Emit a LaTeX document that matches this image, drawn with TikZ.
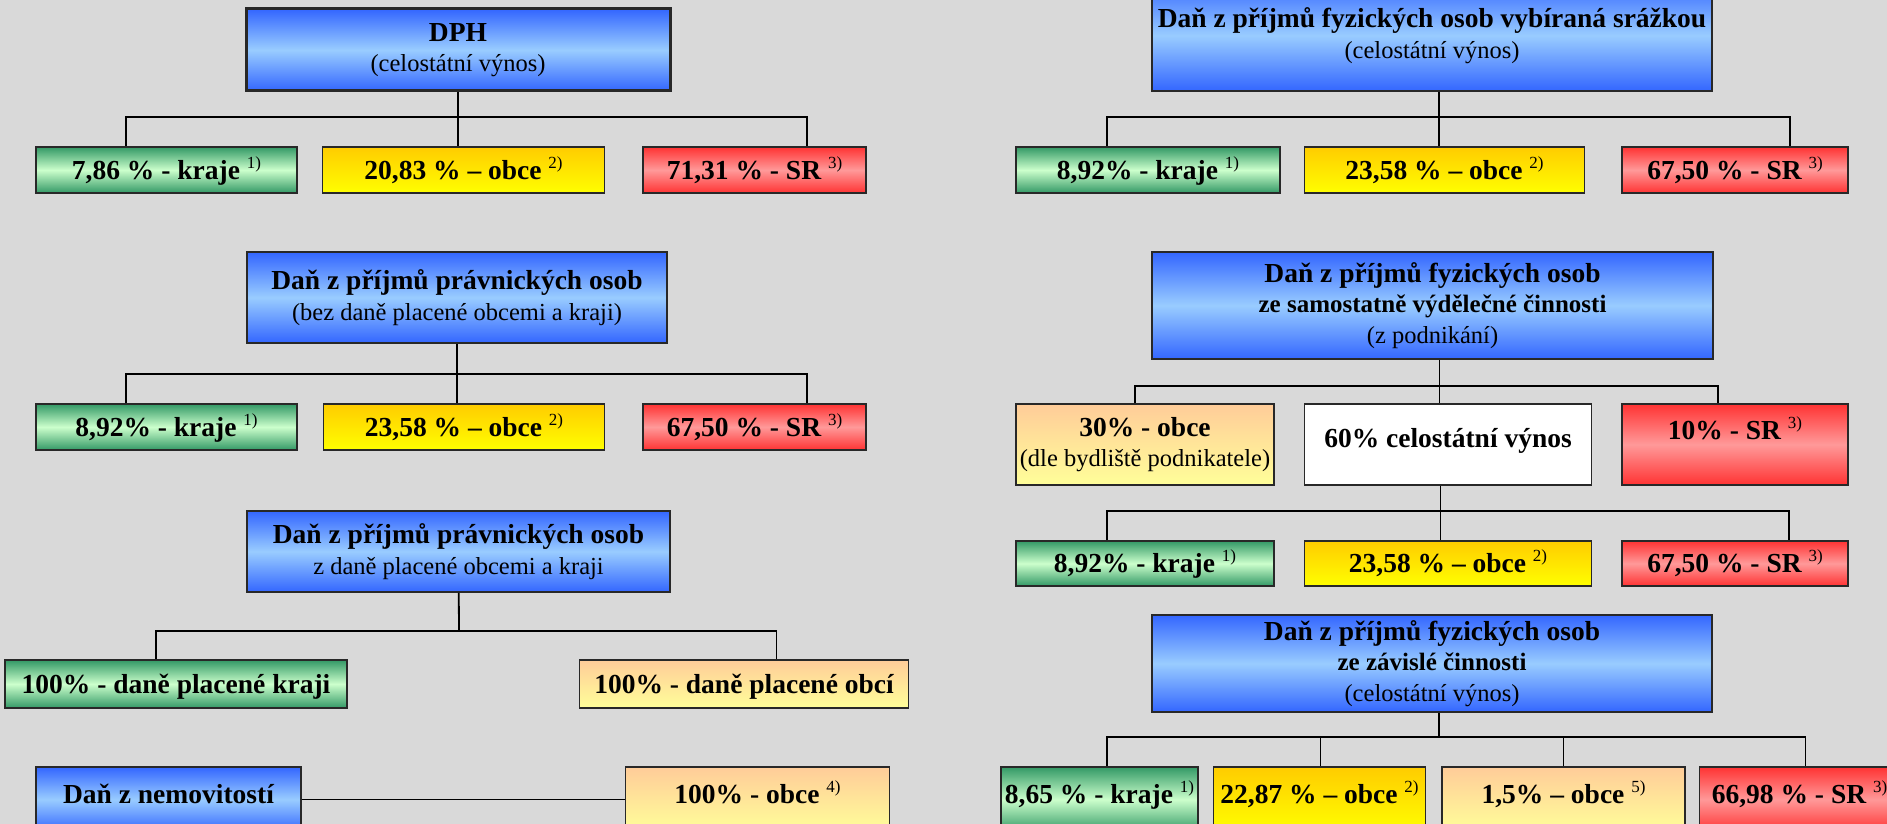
\documentclass[tikz,border=0pt]{standalone}
\usepackage{fontspec}
\setmainfont{Liberation Serif}
\usetikzlibrary{positioning}

\definecolor{bgpage}{RGB}{217,217,217}
\definecolor{boxline}{RGB}{40,40,40}
\definecolor{blueedge}{RGB}{51,102,255}
\definecolor{bluemid}{RGB}{153,204,255}
\definecolor{greenedge}{RGB}{51,153,102}
\definecolor{greenmid}{RGB}{204,255,204}
\definecolor{goldtop}{RGB}{255,204,0}
\definecolor{goldbot}{RGB}{255,255,0}
\definecolor{rededge}{RGB}{255,51,51}
\definecolor{redmid}{RGB}{255,153,153}
\definecolor{peachtop}{RGB}{255,204,153}
\definecolor{peachbot}{RGB}{255,255,153}

\newcommand{\supmark}[1]{\raisebox{11pt}{\fontsize{17}{17}\selectfont\mdseries #1)}}
\newcommand{\subline}[1]{{\fontsize{24.5}{30.5}\selectfont\mdseries #1}}
\newcommand{\boldline}[1]{{\fontsize{25}{30.5}\selectfont #1}}

\begin{document}
\begin{tikzpicture}[x=1pt, y=-1pt,
    box/.style={rectangle, draw=boxline, line width=1.5pt, inner xsep=1pt, inner ysep=0pt, align=center, font=\fontsize{27.5}{30.5}\selectfont\bfseries},
    cell/.style 2 args={box, text height=#1, text depth=#2},
    head/.style={box, top color=blueedge, bottom color=blueedge, middle color=bluemid},
    kraj/.style={top color=greenedge, bottom color=greenedge, middle color=greenmid},
    obec/.style={top color=goldtop, bottom color=goldbot},
    stat/.style={top color=rededge, bottom color=rededge, middle color=redmid},
    peach/.style={top color=peachtop, bottom color=peachbot},
    link/.style={draw=black, line width=1.8pt}]

    \fill[bgpage] (0,0) rectangle (1887,824);
    \useasboundingbox (0,0) rectangle (1887,824);

    % DPH
    \node (dph) [head, line width=3pt, minimum width=424pt, minimum height=82pt] at (458,50) {DPH\\\subline{(celostátní výnos)}};
    \node (k1) [cell={32pt}{14pt}, kraj, minimum width=261pt] at (166.5,170) {7,86 \% - kraje \supmark{1}};
    \node (o1) [cell={32pt}{14pt}, obec, minimum width=282pt, right=24pt of k1] {20,83 \% – obce \supmark{2}};
    \node (s1) [cell={32pt}{14pt}, stat, minimum width=223pt, right=37pt of o1] {71,31 \% - SR \supmark{3}};
    \coordinate (bus1) at (459,117);
    \draw[link] (dph) -- (dph |- o1.north);
    \draw[link] ([xshift=-40.5pt]k1.north) |- (bus1) -| ([xshift=52.5pt]s1.north);

    % Pravnicke osoby (bez dane obci a kraju)
    \node (ppo) [head, minimum width=420pt, minimum height=91pt] at (457,297.5) {Daň z příjmů právnických osob\\\subline{(bez daně placené obcemi a kraji)}};
    \node (k2) [cell={32pt}{14pt}, kraj, minimum width=261pt] at (166.5,427) {8,92\% - kraje \supmark{1}};
    \node (o2) [cell={32pt}{14pt}, obec, minimum width=281pt, right=25pt of k2] {23,58 \% – obce \supmark{2}};
    \node (s2) [cell={32pt}{14pt}, stat, minimum width=223pt, right=37pt of o2] {67,50 \% - SR \supmark{3}};
    \coordinate (bus2) at (459,374);
    \draw[link] (ppo) -- (ppo |- o2.north);
    \draw[link] ([xshift=-40.5pt]k2.north) |- (bus2) -| ([xshift=52.5pt]s2.north);

    % Pravnicke osoby (dan obci a kraju)
    \node (ppob) [head, minimum width=423pt, minimum height=81pt] at (458.5,551.5) {Daň z příjmů právnických osob\\\subline{z daně placené obcemi a kraji}};
    \node (kr) [cell={33pt}{15pt}, kraj, minimum width=342pt] at (176,684) {100\% - daně placené kraji};
    \node (ob) [cell={33pt}{15pt}, peach, minimum width=329pt, right=231pt of kr] {100\% - daně placené obcí};
    \coordinate (bus3) at (459,631);
    \draw[link] (ppob) -- (bus3);
    \draw[link] ([xshift=-20pt]kr.north) |- (bus3) -| ([xshift=32.5pt]ob.north);

    % Nemovitosti
    \node (nem) [head, cell={36pt}{29pt}, minimum width=265pt] at (168.5,799.5) {Daň z nemovitostí};
    \node (obc) [cell={36pt}{29pt}, peach, minimum width=264pt, right=323pt of nem] {100\% - obce \supmark{4}};
    \draw[link] (nem) -- (obc);

    % Fyzicke osoby - srazka
    \node (fos) [head, minimum width=560pt, minimum height=111pt] at (1432,35.5) {Daň z příjmů fyzických osob vybíraná srážkou\\\subline{(celostátní výnos)}};
    \node (k3) [cell={32pt}{14pt}, kraj, minimum width=264pt] at (1148,170) {8,92\% - kraje \supmark{1}};
    \node (o3) [cell={32pt}{14pt}, obec, minimum width=280pt, right=23pt of k3] {23,58 \% – obce \supmark{2}};
    \node (s3) [cell={32pt}{14pt}, stat, minimum width=226pt, right=36pt of o3] {67,50 \% - SR \supmark{3}};
    \coordinate (bus4) at (1439,117);
    \draw[link] ([xshift=7pt]fos.south) -- ([xshift=7pt]fos.south |- o3.north);
    \draw[link] ([xshift=-41pt]k3.north) |- (bus4) -| ([xshift=55pt]s3.north);

    % Fyzicke osoby - podnikani
    \node (fosp) [head, minimum width=561pt, minimum height=107pt] at (1432.5,305.5) {Daň z příjmů fyzických osob\\\boldline{ze samostatně výdělečné činnosti}\\\subline{(z podnikání)}};
    \node (ob5) [box, peach, minimum width=258pt, minimum height=81pt] at (1145,444.5) {30\% - obce\\\subline{(dle bydliště podnikatele)}};
    \node (cel) [cell={43.5pt}{37.5pt}, fill=white, minimum width=287pt, right=29pt of ob5] {60\% celostátní výnos};
    \node (s4) [cell={35pt}{46pt}, stat, minimum width=226pt, right=29pt of cel] {10\% - SR \supmark{3}};
    \coordinate (bus5) at (1439,386);
    \draw[link] ([xshift=7pt]fosp.south) -- ([xshift=7pt]fosp.south |- cel.north);
    \draw[link] ([xshift=-10pt]ob5.north) |- (bus5) -| ([xshift=-17pt]s4.north);

    % Celostatni vynos
    \node (k4) [cell={31.5pt}{13.5pt}, kraj, minimum width=258pt] at (1145,563.5) {8,92\% - kraje \supmark{1}};
    \node (o4) [cell={31.5pt}{13.5pt}, obec, minimum width=287pt, right=29pt of k4] {23,58 \% – obce \supmark{2}};
    \node (s5) [cell={31.5pt}{13.5pt}, stat, minimum width=226pt, right=29pt of o4] {67,50 \% - SR \supmark{3}};
    \coordinate (bus6) at (1439,511);
    \draw[link] ([xshift=-7.5pt]cel.south) -- ([xshift=-7.5pt]cel.south |- o4.north);
    \draw[link] ([xshift=-38pt]k4.north) |- (bus6) -| ([xshift=54pt]s5.north);

    % Fyzicke osoby - zavisla cinnost
    \node (fosz) [head, minimum width=560pt, minimum height=97pt] at (1432,663.5) {Daň z příjmů fyzických osob\\\boldline{ze závislé činnosti}\\\subline{(celostátní výnos)}};
    \node (k5) [cell={36pt}{29pt}, kraj, minimum width=197pt] at (1099.5,799.5) {8,65 \% - kraje \supmark{1}};
    \node (o5) [cell={36pt}{29pt}, obec, minimum width=212pt, right=14pt of k5] {22,87 \% – obce \supmark{2}};
    \node (ob6) [cell={36pt}{29pt}, peach, minimum width=243pt, right=15pt of o5] {1,5\% – obce \supmark{5}};
    \node (s6) [cell={36pt}{29pt}, stat, minimum width=200pt, right=13pt of ob6] {66,98 \% - SR \supmark{3}};
    \coordinate (bus7) at (1439,737);
    \draw[link] ([xshift=7pt]fosz.south) -- (bus7);
    \draw[link] ([xshift=7.5pt]k5.north) |- (bus7) -| ([xshift=6pt]s6.north);
    \draw[link] ([xshift=1pt]o5.north) -- ([xshift=1pt]o5.north |- bus7);
    \draw[link] (ob6.north) -- (ob6.north |- bus7);

\end{tikzpicture}
\end{document}
